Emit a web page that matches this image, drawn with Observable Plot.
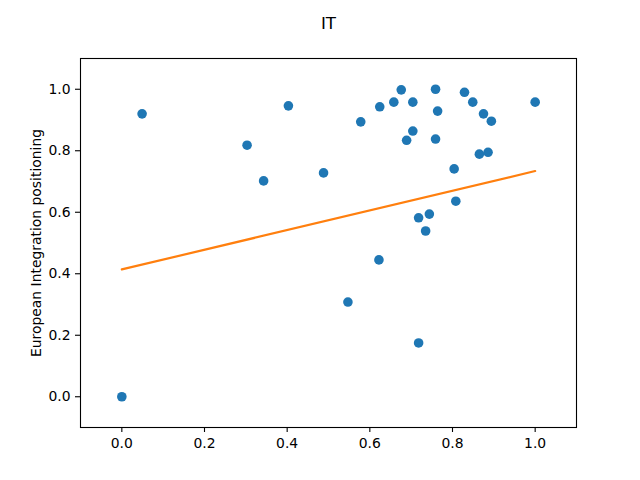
<!DOCTYPE html>
<html>
<head>
<meta charset="utf-8">
<script src="https://cdn.jsdelivr.net/npm/d3@7"></script>
<script src="https://cdn.jsdelivr.net/npm/@observablehq/plot@0.6"></script>
<style>
  html, body { margin: 0; padding: 0; background: #fff; }
</style>
</head>
<body>
<div id="chart"></div>
<script>
const title = "IT";
const yLabel = "European Integration positioning";
const xs = [0.0, 0.049, 0.303, 0.343, 0.403, 0.488, 0.547, 0.578, 0.622, 0.624, 0.658, 0.676, 0.689, 0.704, 0.704, 0.718, 0.718, 0.735, 0.744, 0.759, 0.759, 0.764, 0.804, 0.808, 0.829, 0.849, 0.865, 0.875, 0.886, 0.894, 1.0];
const ys = [0.0, 0.920, 0.818, 0.702, 0.946, 0.728, 0.308, 0.894, 0.445, 0.943, 0.958, 0.998, 0.834, 0.958, 0.864, 0.582, 0.175, 0.539, 0.594, 1.0, 0.838, 0.929, 0.741, 0.636, 0.990, 0.958, 0.789, 0.920, 0.795, 0.896, 0.958];
const fitX = [0, 1];
const fitY = [0.414, 0.734];
const xTicks = [0, 0.2, 0.4, 0.6, 0.8, 1.0];
const yTicks = [0, 0.2, 0.4, 0.6, 0.8, 1.0];

const points = xs.map((x, i) => ({x, y: ys[i]}));
const fit = fitX.map((x, i) => ({x, y: fitY[i]}));

const chart = Plot.plot({
  width: 640,
  height: 480,
  marginLeft: 80,
  marginRight: 64,
  marginTop: 58,
  marginBottom: 53,
  style: {fontFamily: "DejaVu Sans", fontSize: "13.9px", color: "black", background: "white", overflow: "visible"},
  x: {domain: [-0.1, 1.1], ticks: xTicks},
  y: {domain: [-0.1, 1.1], ticks: yTicks},
  marks: [
    Plot.frame({stroke: "black", strokeWidth: 1.1}),
    Plot.axisX({ticks: xTicks, tickFormat: d3.format(".1f"), tickSize: 5, tickPadding: 6, label: null, fontSize: 13.9, stroke: "black", strokeWidth: 1.1}),
    Plot.axisY({ticks: yTicks, tickFormat: d3.format(".1f"), tickSize: 5, tickPadding: 5, label: null, fontSize: 13.9, stroke: "black", strokeWidth: 1.1}),
    Plot.dot(points, {x: "x", y: "y", r: 4.8, fill: "#1f77b4"}),
    Plot.line(fit, {x: "x", y: "y", stroke: "#ff7f0e", strokeWidth: 2.2}),
    Plot.text([yLabel], {text: d => d, frameAnchor: "left", textAnchor: "middle", rotate: -90, dx: -44, fontSize: 13.9, fill: "black"}),
    Plot.text([title], {text: d => d, frameAnchor: "top", textAnchor: "middle", dy: -41, fontSize: 16.7, fill: "black"})
  ]
});
document.getElementById("chart").appendChild(chart);
</script>
</body>
</html>
